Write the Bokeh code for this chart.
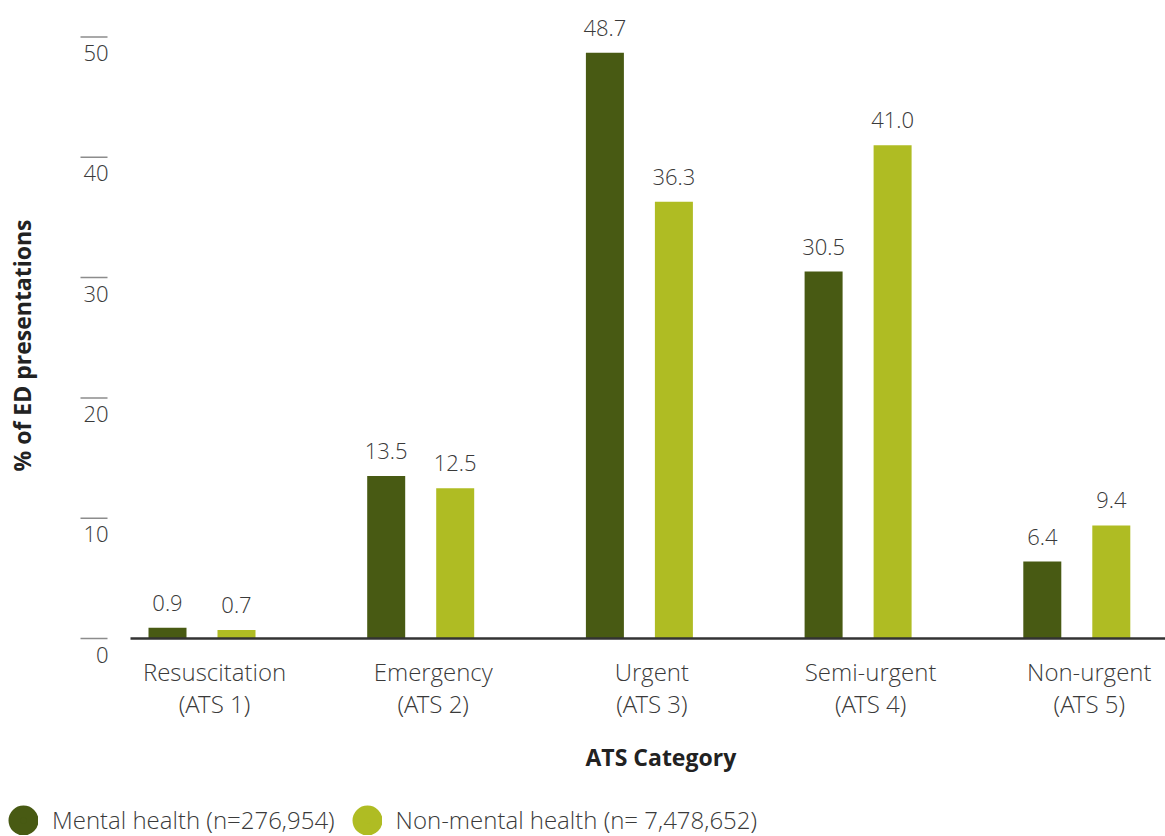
from bokeh.plotting import figure
from bokeh.models import (ColumnDataSource, Range1d, Legend, LegendItem, Label)
from bokeh.transform import dodge
from bokeh.core.properties import value
from bokeh.embed import file_html
from bokeh.resources import INLINE
import math

# ---------------- data ----------------
categories = ["Resuscitation\n(ATS 1)", "Emergency\n(ATS 2)", "Urgent\n(ATS 3)",
              "Semi-urgent\n(ATS 4)", "Non-urgent\n(ATS 5)"]
mental = [0.9, 13.5, 48.7, 30.5, 6.4]
non_mental = [0.7, 12.5, 36.3, 41.0, 9.4]
y_ticks = [0, 10, 20, 30, 40, 50]
series_names = ["Mental health (n=276,954)", "Non-mental health (n= 7,478,652)"]
x_title = "ATS Category"
y_title = "% of ED presentations"

# ---------------- style ----------------
DARK = "#485a13"
LIGHT = "#afbc23"
TEXT = "#3a3a3a"
FONT = "Open Sans Light"
BOLD_FONT = "Open Sans"
FS = "22px"
CAT_FS = "24px"

W, H = 1165, 836
zero_px, ppu = 638.0, 12.03          # pixel row of 0 and pixels per unit
label0_px, step_px = 214.0, 218.7    # pixel column of first category, category step


def px_x(px):
    return (px - label0_px) / step_px


x_start, x_end = px_x(0), px_x(W)
y_start, y_end = (zero_px - H) / ppu, zero_px / ppu

bar_w = 38 / step_px
off_mental = px_x(167)
off_non = px_x(236)

p = figure(width=W, height=H, x_range=Range1d(x_start, x_end), y_range=Range1d(y_start, y_end),
           output_backend="svg", toolbar_location=None,
           min_border_left=0, min_border_right=0, min_border_top=0, min_border_bottom=0)
p.outline_line_color = None
p.grid.visible = False
p.axis.visible = False
p.background_fill_color = "white"
p.border_fill_color = "white"

idx = list(range(len(categories)))
src = ColumnDataSource(dict(
    x=idx, mental=mental, non=non_mental,
    mental_lbl=[f"{v:.1f}" for v in mental],
    non_lbl=[f"{v:.1f}" for v in non_mental],
    line1=[c.split("\n")[0] for c in categories],
    line2=[c.split("\n")[1] for c in categories],
    zero=[0] * len(categories),
))

# bars
p.vbar(x=dodge("x", off_mental, range=p.x_range), top="mental", width=bar_w, bottom=0,
       source=src, fill_color=DARK, line_color=None)
p.vbar(x=dodge("x", off_non, range=p.x_range), top="non", width=bar_w, bottom=0,
       source=src, fill_color=LIGHT, line_color=None)

# value labels
for col, ycol, off in (("mental_lbl", "mental", off_mental), ("non_lbl", "non", off_non)):
    p.text(x=dodge("x", off, range=p.x_range), y=ycol, text=col, source=src,
           text_align="center", text_baseline="alphabetic", y_offset=-25,
           text_font=value(FONT), text_font_size=FS, text_color=TEXT)

# baseline (x axis line)
p.segment(x0=[px_x(130)], x1=[x_end], y0=[0], y1=[0],
          line_color="#333333", line_width=2.5)

# category labels (x axis tick labels)
p.text(x="x", y="zero", text="line1", source=src, text_align="center",
       text_baseline="middle", y_offset=33,
       text_font=value(FONT), text_font_size=CAT_FS, text_color=TEXT)
p.text(x="x", y="zero", text="line2", source=src, text_align="center",
       text_baseline="middle", y_offset=65,
       text_font=value(FONT), text_font_size=CAT_FS, text_color=TEXT)

# y ticks: short lines with labels underneath
tick_src = ColumnDataSource(dict(y=y_ticks, lbl=[str(t) for t in y_ticks]))
p.segment(x0=px_x(80), x1=px_x(107), y0="y", y1="y", source=tick_src,
          line_color="#8c8c8c", line_width=1.5)
p.text(x=px_x(108), y="y", text="lbl", source=tick_src,
       text_align="right", text_baseline="top", y_offset=8,
       text_font=value(FONT), text_font_size=FS, text_color=TEXT)

# axis titles
p.add_layout(Label(x=585, y=H - 756, x_units="screen", y_units="screen", text=x_title,
                   text_align="left", text_baseline="middle",
                   text_font=BOLD_FONT, text_font_size="23px", text_font_style="bold",
                   text_color="#222222"))
p.add_layout(Label(x=21, y=H - 345, x_units="screen", y_units="screen", text=y_title,
                   angle=math.pi / 2, text_align="center", text_baseline="middle",
                   text_font=BOLD_FONT, text_font_size="23px", text_font_style="bold",
                   text_color="#222222"))

# legend (glyph-only renderers; NaN points are never drawn in the plot)
nan_src = ColumnDataSource(dict(x=[float("nan")], y=[float("nan")]))
r1 = p.scatter(x="x", y="y", source=nan_src, marker="circle", size=12,
               fill_color=DARK, line_color=DARK, line_width=18)
r2 = p.scatter(x="x", y="y", source=nan_src, marker="circle", size=12,
               fill_color=LIGHT, line_color=LIGHT, line_width=18)
legend = Legend(items=[LegendItem(label=series_names[0], renderers=[r1]),
                       LegendItem(label=series_names[1], renderers=[r2])],
                orientation="horizontal", location=(8, 0),
                glyph_width=30, glyph_height=30, label_standoff=14, spacing=17,
                padding=0, margin=0, border_line_color=None, background_fill_alpha=0,
                label_text_font=FONT, label_text_font_size="24px", label_text_color=TEXT)
p.add_layout(legend, "center")

open("out.html", "w").write(file_html(p, INLINE))
